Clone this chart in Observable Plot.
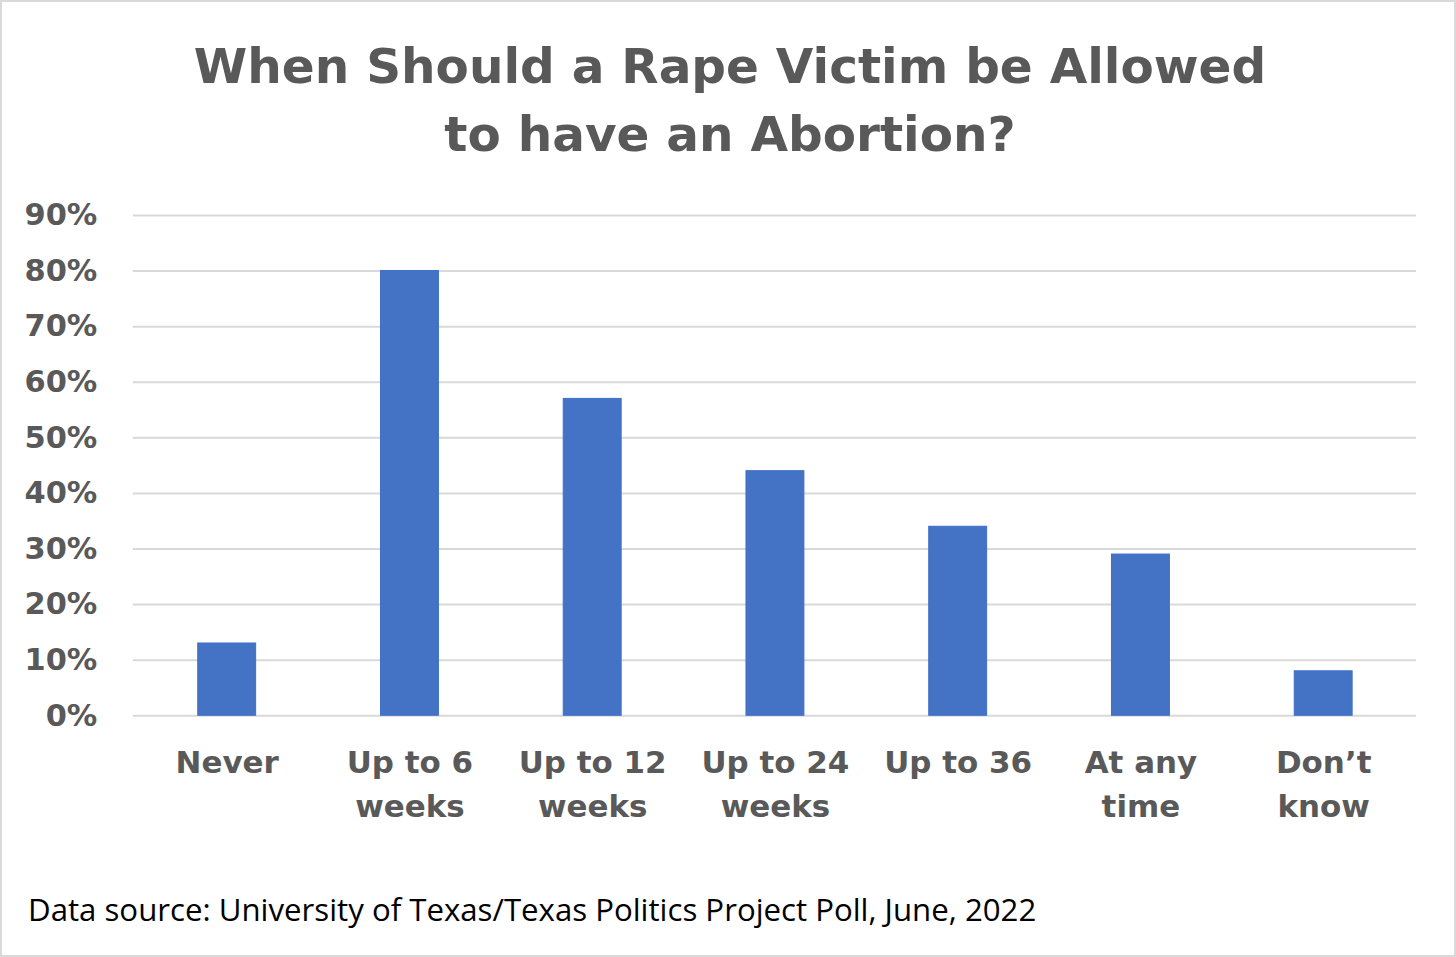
<!DOCTYPE html>
<html>
<head>
<meta charset="utf-8">
<script src="https://cdn.jsdelivr.net/npm/d3@7"></script>
<script src="https://cdn.jsdelivr.net/npm/@observablehq/plot@0.6"></script>
<style>
  html, body { margin: 0; padding: 0; background: #fff; }
  #frame { position: relative; width: 1456px; height: 957px; box-sizing: border-box; border: 2px solid #d9d9d9; background: #fff; overflow: hidden; }
  #title { position: absolute; left: 0; top: 30px; width: 1456px; text-align: center; font-family: "DejaVu Sans", sans-serif; font-weight: 900; font-size: 48.5px; line-height: 68px; color: #595959; }
  #chart { position: absolute; left: -2px; top: 177px; }
  #caption { position: absolute; left: 26px; top: 886px; font-family: "Open Sans", sans-serif; font-size: 31.2px; color: #000; white-space: nowrap; }
</style>
</head>
<body>
<div id="frame">
  <div id="title">When Should a Rape Victim be Allowed<br>to have an Abortion?</div>
  <div id="chart"></div>
  <div id="caption">Data source: University of Texas/Texas Politics Project Poll, June, 2022</div>
</div>
<script>
const categories = ["Never", "Up to 6\nweeks", "Up to 12\nweeks", "Up to 24\nweeks", "Up to 36", "At any\ntime", "Don’t\nknow"];
const values = [13, 80, 57, 44, 34, 29, 8];
const yTicks = [0, 10, 20, 30, 40, 50, 60, 70, 80, 90];

const data = categories.map((c, i) => ({category: c, value: values[i]}));

const chart = Plot.plot({
  width: 1456,
  height: 680,
  marginTop: 36,
  marginBottom: 143,
  marginLeft: 133,
  marginRight: 38,
  style: {fontFamily: "DejaVu Sans, sans-serif", background: "transparent"},
  x: {domain: categories, paddingInner: 0.684, paddingOuter: 0.342, label: null},
  y: {domain: [0, 90], label: null},
  marks: [
    Plot.gridY(yTicks, {stroke: "#d9d9d9", strokeOpacity: 1, strokeWidth: 2}),
    Plot.barY(data, {x: "category", y: "value", fill: "#4472C4", stroke: "#3f6fc8", strokeWidth: 1}),
    Plot.axisY(yTicks, {tickSize: 0, tickPadding: 36, tickFormat: d => d + "%", fontSize: 30.5, fontWeight: "bold", fill: "#595959"}),
    Plot.axisX({tickSize: 0, tickPadding: 25, fontSize: 31, fontWeight: "bold", fill: "#595959", lineHeight: 1.45})
  ]
});
document.getElementById("chart").appendChild(chart);
</script>
</body>
</html>
